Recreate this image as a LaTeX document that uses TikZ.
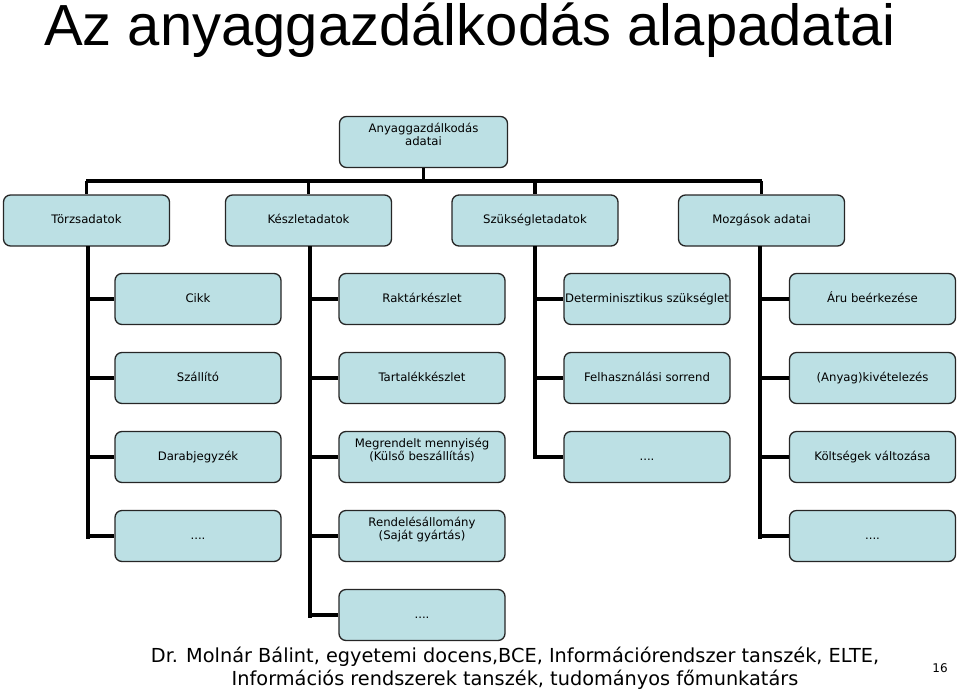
\documentclass[tikz,border=0pt]{standalone}
\usepackage{fontspec}
\setmainfont{DejaVu Sans}
\newfontfamily\titlefont{Liberation Sans}
\newcommand\fdots{....}
\begin{document}
\begin{tikzpicture}[x=1pt,y=-1pt,
  bx/.style={draw=black!85,line width=1.3pt,rounded corners=7pt,fill=boxc,minimum width=166pt,minimum height=51pt,align=center,font=\fontsize{11.7}{13}\selectfont,inner sep=1pt,text height=8.5pt,text depth=2.5pt},
  ln/.style={line width=3.4pt,black}]
\definecolor{boxc}{HTML}{BCE0E4}
\useasboundingbox (0,0) rectangle (960,699);
\node[anchor=west,font=\titlefont\fontsize{58}{62}\selectfont,inner sep=0pt] (title) at (44,30) {Az anyaggazdálkodás alapadatai};
\node[bx,minimum width=168pt] (root) at (423.5,142) {Anyaggazdálkodás\\adatai};
\coordinate (bl) at (88,181); \coordinate (br) at (760,181);
\draw[ln] (root.south) -- (423.5,181);
\draw[ln,line cap=rect] (bl) -- (br);
\foreach \n/\x/\t in {t/86.5/Törzsadatok,k/308.5/Készletadatok,s/535/Szükségletadatok,m/761.5/Mozgások adatai}{
  \node[bx] (\n) at (\x,220.5) {\t};
  \draw[ln] (\x,181) -- (\n.north);
}
\foreach \cl/\x/\list in {a/198/{Cikk,Szállító,Darabjegyzék,\fdots},
  b/422/{Raktárkészlet,Tartalékkészlet,{Megrendelt mennyiség\\(Külső beszállítás)},{Rendelésállomány\\(Saját gyártás)},\fdots},
  c/647/{Determinisztikus szükséglet,Felhasználási sorrend,\fdots},
  d/872.5/{Áru beérkezése,(Anyag)kivételezés,Költségek változása,\fdots}}{
  \foreach \t [count=\i] in \list {
    \node[bx] (\cl\i) at (\x,220+79*\i) {\t};
    \draw[ln] (\x-111.7,220+79*\i) -- (\cl\i.west);
  }
}
\draw[ln] (88,246) -- (88,538.7);
\draw[ln] (310,246) -- (310,617.7);
\draw[ln] (535,246) -- (535,458.7);
\draw[ln] (760,246) -- (760,538.7);
\node[anchor=center,font=\fontsize{19.3}{23}\selectfont,align=center] (foot) at (515,668) {Dr. Molnár Bálint, egyetemi docens,BCE, Információrendszer tanszék, ELTE,\\Információs rendszerek tanszék, tudományos főmunkatárs};
\node[font=\fontsize{12}{13}\selectfont] (pg) at (940,668) {16};
\end{tikzpicture}
\end{document}
